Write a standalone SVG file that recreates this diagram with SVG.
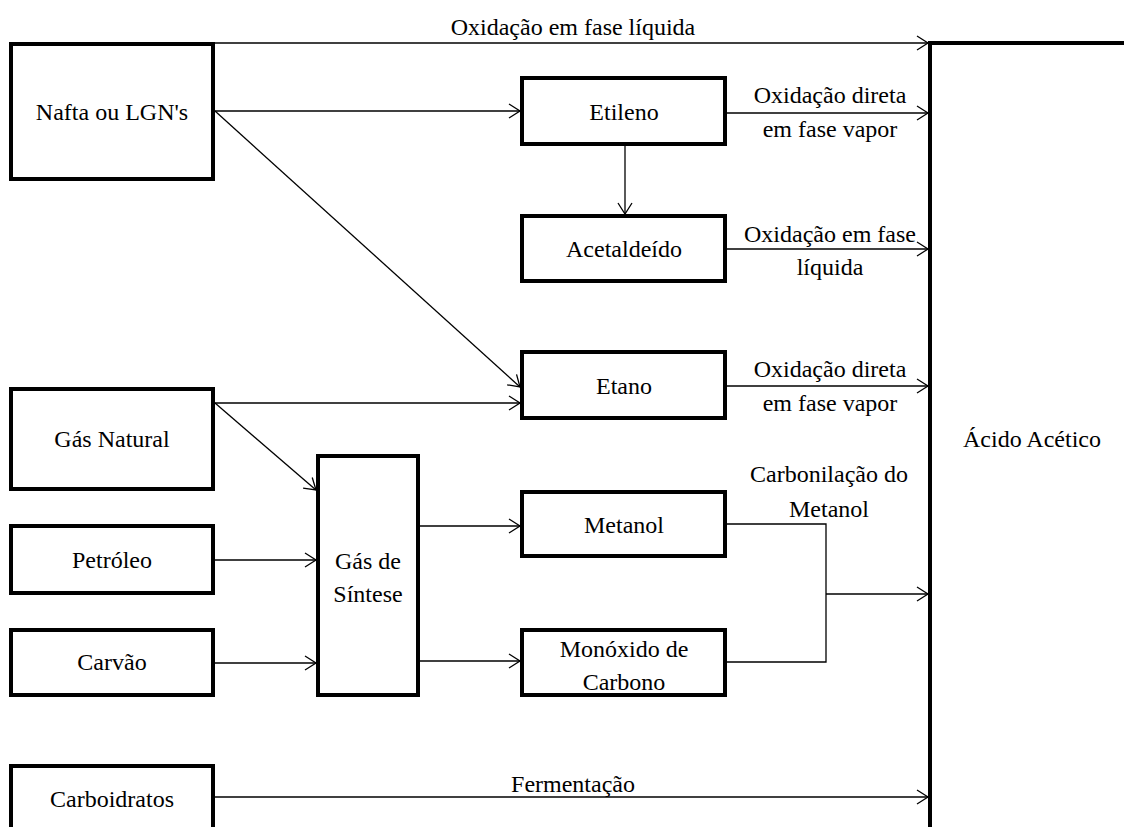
<svg xmlns="http://www.w3.org/2000/svg" width="1124" height="827" viewBox="0 0 1124 827">
<style>
.box{fill:#fff;stroke:#000;stroke-width:4}
.c{fill:none;stroke:#000;stroke-width:1.3}
text{font-size:24px;fill:#000;text-anchor:middle}
</style>
<defs>
<marker id="ah" markerUnits="userSpaceOnUse" viewBox="-13 -9 15 18" refX="0" refY="0" markerWidth="15" markerHeight="18" orient="auto" overflow="visible">
<path d="M-11,-7 L0,0 L-11,7" fill="none" stroke="#000" stroke-width="1.3"/>
</marker>
</defs>
<rect width="1124" height="827" fill="#fff"/>
<g font-family="Liberation Serif, Times New Roman, Noto Serif, serif">
<g id="connectors">
<path class="c" d="M215,43 H928" marker-end="url(#ah)"/>
<path class="c" d="M215,111 H520" marker-end="url(#ah)"/>
<path class="c" d="M727,113 H928" marker-end="url(#ah)"/>
<path class="c" d="M625,146 V214" marker-end="url(#ah)"/>
<path class="c" d="M727,249 H928" marker-end="url(#ah)"/>
<path class="c" d="M215,111 L520,387" marker-end="url(#ah)"/>
<path class="c" d="M215,403 H520" marker-end="url(#ah)"/>
<path class="c" d="M727,386 H928" marker-end="url(#ah)"/>
<path class="c" d="M215,403 L316,490" marker-end="url(#ah)"/>
<path class="c" d="M215,560 H316" marker-end="url(#ah)"/>
<path class="c" d="M215,663 H316" marker-end="url(#ah)"/>
<path class="c" d="M420,526 H520" marker-end="url(#ah)"/>
<path class="c" d="M420,661 H520" marker-end="url(#ah)"/>
<path class="c" d="M727,524 H826 V662 H727"/>
<path class="c" d="M826,594 H928" stroke-width="2" marker-end="url(#ah)"/>
<path class="c" d="M215,797 H928" marker-end="url(#ah)"/>
<text x="573" y="35">Oxidação em fase líquida</text>
<text x="830" y="103">Oxidação direta</text>
<text x="830" y="137">em fase vapor</text>
<text x="830" y="242">Oxidação em fase</text>
<text x="830" y="275">líquida</text>
<text x="830" y="377">Oxidação direta</text>
<text x="830" y="411">em fase vapor</text>
<text x="829" y="482">Carbonilação do</text>
<text x="829" y="517">Metanol</text>
<text x="573" y="792">Fermentação</text>
</g>
<g id="nafta"><rect class="box" x="11" y="44" width="202" height="135"/><text x="112" y="120">Nafta ou LGN's</text></g>
<g id="etileno"><rect class="box" x="522" y="78" width="203" height="66"/><text x="624" y="120">Etileno</text></g>
<g id="acetaldeido"><rect class="box" x="522" y="216" width="203" height="65"/><text x="624" y="257">Acetaldeído</text></g>
<g id="etano"><rect class="box" x="522" y="352" width="203" height="66"/><text x="624" y="394">Etano</text></g>
<g id="gas-natural"><rect class="box" x="11" y="389" width="202" height="100"/><text x="112" y="447">Gás Natural</text></g>
<g id="petroleo"><rect class="box" x="11" y="526" width="202" height="67"/><text x="112" y="568">Petróleo</text></g>
<g id="carvao"><rect class="box" x="11" y="630" width="202" height="65"/><text x="112" y="670">Carvão</text></g>
<g id="gas-sintese"><rect class="box" x="318" y="456" width="100" height="239"/><text x="368" y="569">Gás de</text><text x="368" y="602">Síntese</text></g>
<g id="metanol"><rect class="box" x="522" y="492" width="203" height="64"/><text x="624" y="533">Metanol</text></g>
<g id="monoxido"><rect class="box" x="522" y="630" width="203" height="65"/><text x="624" y="657">Monóxido de</text><text x="624" y="690">Carbono</text></g>
<g id="carboidratos"><rect class="box" x="11" y="766" width="202" height="80"/><text x="112" y="807">Carboidratos</text></g>
<g id="acido-acetico"><path d="M930,827 V43 H1124" fill="none" stroke="#000" stroke-width="4"/><text x="1032" y="447">Ácido Acético</text></g>
</g>
</svg>
